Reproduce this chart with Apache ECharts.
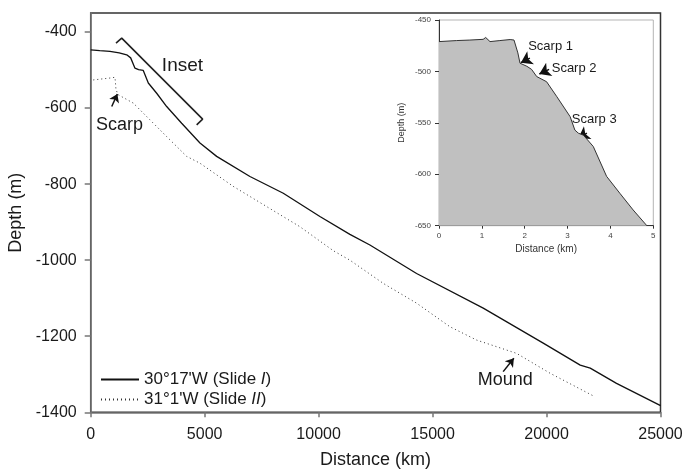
<!DOCTYPE html>
<html>
<head>
<meta charset="utf-8">
<script src="https://cdn.jsdelivr.net/npm/echarts@6/dist/echarts.min.js"></script>
<style>
  html, body { margin: 0; padding: 0; background: #fff; }
  #chart { width: 687px; height: 470px; }
</style>
</head>
<body>
<div id="chart"></div>
<script>
// main profile, 30°17'W (solid)
const slide1X = [0, 400, 846, 1250, 1580, 1754, 1943, 2100, 2307, 2527, 2895, 3333, 3991, 4794, 5526, 6987, 8450, 10057, 11373, 12250, 14298, 17222, 19855, 21478, 21917, 23070, 24960, 25000];
const slide1Y = [-447, -449, -451, -455, -460, -468, -495, -499, -501, -534, -561, -596, -640, -692, -727, -780, -824, -885, -932, -960, -1035, -1126, -1218, -1276, -1284, -1324, -1381, -1383];
// main profile, 31°1'W (dotted)
const slide2X = [114, 846, 1066, 1110, 1210, 1870, 2600, 3333, 4210, 4794, 6257, 7719, 9180, 10643, 11373, 12836, 14298, 15760, 16930, 18684, 20146, 22120];
const slide2Y = [-526, -521, -519, -552, -565, -587, -631, -675, -727, -745, -806, -859, -912, -975, -1000, -1061, -1113, -1175, -1210, -1245, -1297, -1359];
// inset profile (km, m)
const insetX = [0, 0.41, 0.72, 1.03, 1.09, 1.19, 1.42, 1.66, 1.75, 1.84, 1.89, 2.05, 2.16, 2.28, 2.51, 2.75, 3.06, 3.17, 3.25, 3.37, 3.60, 3.91, 4.22, 4.53, 4.85];
const insetY = [-471, -470, -469.5, -468.8, -467, -471, -470, -469, -469.5, -482, -492, -495, -498, -505, -510, -524.6, -544, -557, -560, -562, -573, -602, -618.5, -634.7, -650];

const mainYTicks = [-1400, -1200, -1000, -800, -600, -400];
const seriesNames = ["30°17'W (Slide I)", "31°1'W (Slide II)"];

// annotations in data units
const insetBracket = [[1110, -429], [1360, -416], [4912, -629], [4649, -644]];
const mainArrows = [[[923, -596], [1170, -563]], [[18097, -1293], [18566, -1258]]];
const mainNotes = [[1263, -645, 'Scarp', 18], [18193, -1315, 'Mound', 18], [4026, -489, 'Inset', 19]];
const insetArrows = [[[2.12, -487], [1.91, -491.5]], [[2.57, -498], [2.34, -502.5]], [[3.45, -560], [3.25, -565]]];
const insetNotes = [[2.08, -476, 'Scarp 1'], [2.63, -497, 'Scarp 2'], [3.10, -547, 'Scarp 3']];

const FONT = 'Liberation Sans, Arial, sans-serif';
const ink = '#1a1a1a';

function pairs(xs, ys) {
  return xs.map((x, i) => [x, ys[i]]);
}
const plain = v => String(v);

const chart = echarts.init(document.getElementById('chart'), null, { renderer: 'canvas' });

const option = {
  animation: false,
  backgroundColor: '#fff',
  textStyle: { fontFamily: FONT },
  grid: [
    { left: 90.7, right: 26.5, top: 13, bottom: 57.7, outerBoundsMode: 'none', containLabel: false,
      show: true, borderColor: '#333', borderWidth: 1.5, backgroundColor: 'transparent' },
    { left: 439, right: 33.7, top: 20, bottom: 244.3, outerBoundsMode: 'none', containLabel: false,
      show: true, borderColor: '#b5b5b5', borderWidth: 1, backgroundColor: 'transparent' }
  ],
  legend: {
    left: 95, top: 366, orient: 'vertical', itemWidth: 38, itemHeight: 14, itemGap: 3,
    data: seriesNames,
    itemStyle: { opacity: 0 },
    formatter: function (name) {
      return name.replace(/Slide (I+)\)/, 'Slide {it|$1})');
    },
    textStyle: {
      fontFamily: FONT, fontSize: 17, color: ink,
      rich: { it: { fontFamily: FONT, fontSize: 17, fontStyle: 'italic', color: ink } }
    }
  },
  xAxis: [
    {
      type: 'value', gridIndex: 0, min: 0, max: 25000, interval: 5000,
      name: 'Distance (km)', nameLocation: 'middle', nameGap: 39,
      nameTextStyle: { fontFamily: FONT, fontSize: 18, color: ink },
      axisLine: { lineStyle: { color: '#777', width: 1.5 } },
      axisTick: { length: 5, lineStyle: { color: '#777', width: 1.5 } },
      axisLabel: { fontFamily: FONT, fontSize: 16, color: ink, margin: 14, formatter: plain },
      splitLine: { show: false }
    },
    {
      type: 'value', gridIndex: 1, min: 0, max: 5, interval: 1,
      name: 'Distance (km)', nameLocation: 'middle', nameGap: 19,
      nameTextStyle: { fontFamily: FONT, fontSize: 10, color: '#333' },
      axisLine: { lineStyle: { color: '#333', width: 1 } },
      axisTick: { length: 3, lineStyle: { color: '#333' } },
      axisLabel: { fontFamily: FONT, fontSize: 8, color: '#444', margin: 6, formatter: plain },
      splitLine: { show: false }
    }
  ],
  yAxis: [
    {
      type: 'value', gridIndex: 0, min: -1400, max: -350,
      name: 'Depth (m)', nameLocation: 'middle', nameGap: 62, nameRotate: 90,
      nameTextStyle: { fontFamily: FONT, fontSize: 18, color: ink },
      axisLine: { show: true, lineStyle: { color: '#777', width: 1.5 } },
      axisTick: { show: true, length: 6, customValues: mainYTicks, lineStyle: { color: '#777', width: 1.5 } },
      axisLabel: { fontFamily: FONT, fontSize: 16, color: ink, margin: 14, customValues: mainYTicks, formatter: plain },
      splitLine: { show: false }
    },
    {
      type: 'value', gridIndex: 1, min: -650, max: -450, interval: 50,
      name: 'Depth (m)', nameLocation: 'middle', nameGap: 33, nameRotate: 90,
      nameTextStyle: { fontFamily: FONT, fontSize: 9, color: '#333' },
      axisLine: { show: true, lineStyle: { color: '#333', width: 1 } },
      axisTick: { show: true, length: 4, lineStyle: { color: '#333' } },
      axisLabel: { fontFamily: FONT, fontSize: 8, color: '#444', margin: 8, formatter: plain },
      splitLine: { show: false }
    }
  ],
  series: [
    {
      name: seriesNames[0], type: 'line', xAxisIndex: 0, yAxisIndex: 0,
      data: pairs(slide1X, slide1Y), symbol: 'none',
      lineStyle: { color: '#111', width: 1.3 }, itemStyle: { color: '#111' }
    },
    {
      name: seriesNames[1], type: 'line', xAxisIndex: 0, yAxisIndex: 0,
      data: pairs(slide2X, slide2Y), symbol: 'none',
      lineStyle: { color: '#333', width: 1, type: [1, 3] }, itemStyle: { color: '#333' }
    },
    {
      name: 'bracket', type: 'line', xAxisIndex: 0, yAxisIndex: 0,
      data: insetBracket, symbol: 'none', silent: true,
      lineStyle: { color: '#222', width: 1.6 }
    },
    {
      name: 'arrows', type: 'lines', coordinateSystem: 'cartesian2d', xAxisIndex: 0, yAxisIndex: 0,
      data: mainArrows.map(a => ({ coords: a })),
      symbol: ['none', 'arrow'], symbolSize: 8,
      lineStyle: { color: '#111', width: 1.5, opacity: 1 }
    },
    {
      name: 'notes', type: 'scatter', xAxisIndex: 0, yAxisIndex: 0,
      data: mainNotes.map(n => ({ value: [n[0], n[1]], note: n[2], label: { fontSize: n[3] } })),
      symbolSize: 0, silent: true, itemStyle: { opacity: 1 },
      label: {
        show: true, position: 'inside', formatter: p => p.data.note,
        fontFamily: FONT, color: ink, fontSize: 18
      }
    },
    {
      name: 'inset', type: 'line', xAxisIndex: 1, yAxisIndex: 1,
      data: pairs(insetX, insetY), symbol: 'none',
      lineStyle: { color: '#333', width: 1 },
      areaStyle: { color: '#c0c0c0', opacity: 1, origin: 'start' }
    },
    {
      name: 'insetArrows', type: 'lines', coordinateSystem: 'cartesian2d', xAxisIndex: 1, yAxisIndex: 1,
      data: insetArrows.map(a => ({ coords: a })),
      symbol: ['none', 'arrow'], symbolSize: 11,
      lineStyle: { color: '#111', width: 1.5, opacity: 1 }
    },
    {
      name: 'insetNotes', type: 'scatter', xAxisIndex: 1, yAxisIndex: 1,
      data: insetNotes.map(n => ({ value: [n[0], n[1]], note: n[2] })),
      symbolSize: 0, silent: true, itemStyle: { opacity: 1 },
      label: {
        show: true, position: 'right', distance: 0, formatter: p => p.data.note,
        fontFamily: FONT, color: ink, fontSize: 13
      }
    }
  ]
};

chart.setOption(option);
</script>
</body>
</html>
